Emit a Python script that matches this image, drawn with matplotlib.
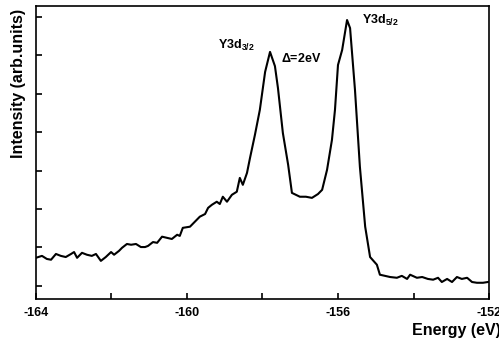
import numpy as np
import matplotlib
matplotlib.use("Agg")
import matplotlib.pyplot as plt

plt.rcParams['font.family'] = ['Liberation Sans', 'DejaVu Sans']
plt.rcParams['font.weight'] = 'bold'
plt.rcParams['mathtext.fontset'] = 'custom'
plt.rcParams['mathtext.bf'] = 'Liberation Sans:bold'
plt.rcParams['mathtext.rm'] = 'Liberation Sans:bold'
plt.rcParams['mathtext.default'] = 'bf'

# spectrum
energy = [-164.00, -163.84, -163.71, -163.60, -163.47, -163.34, -163.21, -163.07, -162.99, -162.91,
          -162.78, -162.65, -162.52, -162.41, -162.28, -162.15, -162.01, -161.93, -161.80, -161.72,
          -161.59, -161.48, -161.35, -161.22, -161.11, -161.03, -160.90, -160.79, -160.66, -160.53,
          -160.40, -160.26, -160.19, -160.11, -159.92, -159.79, -159.66, -159.52, -159.44, -159.34,
          -159.21, -159.13, -159.05, -158.94, -158.81, -158.68, -158.60, -158.52, -158.41, -158.33,
          -158.20, -158.07, -157.93, -157.80, -157.67, -157.59, -157.46, -157.32, -157.22, -157.01,
          -156.85, -156.69, -156.53, -156.42, -156.29, -156.16, -156.08, -156.00, -155.89, -155.76,
          -155.68, -155.55, -155.42, -155.28, -155.15, -154.97, -154.89, -154.62, -154.44, -154.31,
          -154.17, -154.09, -153.91, -153.77, -153.62, -153.48, -153.35, -153.25, -153.11, -152.98,
          -152.85, -152.72, -152.58, -152.45, -152.32, -152.16, -152.03]
intensity = [0.73, 0.78, 0.70, 0.68, 0.83, 0.78, 0.75, 0.83, 0.88, 0.73,
             0.86, 0.81, 0.78, 0.83, 0.65, 0.75, 0.88, 0.81, 0.91, 0.99,
             1.09, 1.07, 1.09, 1.01, 1.01, 1.04, 1.14, 1.12, 1.28, 1.25,
             1.22, 1.33, 1.30, 1.51, 1.54, 1.67, 1.80, 1.87, 2.03, 2.11,
             2.19, 2.13, 2.32, 2.19, 2.37, 2.45, 2.81, 2.63, 2.94, 3.33,
             3.93, 4.58, 5.57, 6.09, 5.72, 5.15, 3.98, 3.15, 2.42, 2.32,
             2.32, 2.29, 2.39, 2.50, 3.02, 3.80, 4.58, 5.75, 6.14, 6.92,
             6.71, 5.10, 3.10, 1.54, 0.75, 0.55, 0.29, 0.23, 0.21, 0.26,
             0.18, 0.29, 0.21, 0.23, 0.18, 0.16, 0.21, 0.10, 0.18, 0.10,
             0.23, 0.18, 0.21, 0.10, 0.08, 0.08, 0.10]

xticks_major = [-164, -160, -156, -152]
xticks_minor = [-162, -158, -154]
yticks = [0, 1, 2, 3, 4, 5, 6, 7]

fig = plt.figure(figsize=(4.99, 3.42), dpi=100)
ax = fig.add_axes([0.072, 0.126, 0.908, 0.857])

ax.plot(energy, intensity, color='black', lw=1.5)

ax.set_xlim(-164, -152)
ax.set_ylim(-0.34, 7.29)
ax.set_xticks(xticks_major)
ax.set_xticklabels(['%d' % t for t in xticks_major], fontsize=9, fontweight='bold')
ax.set_xticks(xticks_minor, minor=True)
ax.set_yticks(yticks)
ax.set_yticklabels([])
ax.tick_params(which='both', direction='in', length=4, width=1.2, pad=6)
for s in ax.spines.values():
    s.set_linewidth(1.2)

ax.text(-159.18, 6.25, 'Y3d$_{3/2}$', fontsize=9, fontweight='bold', va='center')
ax.text(-157.51, 5.93, '$\\Delta$=2eV', fontsize=9, fontweight='bold', va='center')
ax.text(-155.36, 6.92, 'Y3d$_{5/2}$', fontsize=9, fontweight='bold', va='center')

fig.text(0.038, 0.757, 'Intensity (arb.units)', rotation=90, fontsize=11.5,
         fontweight='bold', ha='center', va='center')
fig.text(1.003, 0.035, 'Energy (eV)', fontsize=11.5, fontweight='bold',
         ha='right', va='center')

fig.savefig('out.png', dpi=100)
